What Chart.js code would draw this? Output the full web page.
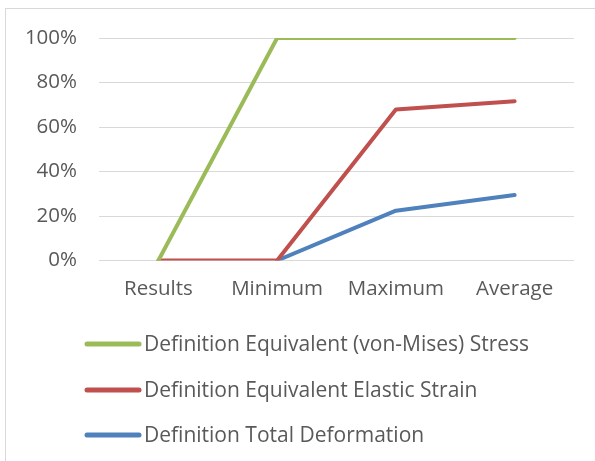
<!DOCTYPE html>
<html>
<head>
<meta charset="utf-8">
<script src="https://cdn.jsdelivr.net/npm/chart.js@4"></script>
<style>
    html, body { margin: 0; padding: 0; background: #fff; overflow: hidden; }
    #frame { position: absolute; left: 5px; top: 8px; width: 620px; height: 480px;
             border-left: 1px solid #d9d9d9; border-top: 1px solid #d9d9d9; }
    #lineChart { position: absolute; left: 0; top: 0; }
</style>
</head>
<body>
<div id="frame"></div>
<canvas id="lineChart" width="595" height="461"></canvas>
<script>
const categories = ['Results', 'Minimum', 'Maximum', 'Average'];
const stressValues = [0, 100, 100, 100];
const strainValues = [0, 0, 67.9, 71.6];
// no deformation value under "Results"
const deformationValues = [null, 0, 22.4, 29.4];
const yTicks = [0, 20, 40, 60, 80, 100];

const textColor = '#595959';
const fontFamily = '"Open Sans", Lato, sans-serif';

// legend is drawn by hand, one entry per row, left aligned
const stackedLegend = {
    id: 'stackedLegend',
    afterDraw(chart) {
        const ctx = chart.ctx;
        const rows = [344, 390, 435];
        ctx.save();
        chart.data.datasets.forEach((ds, i) => {
            const y = rows[i];
            ctx.strokeStyle = ds.borderColor;
            ctx.lineWidth = 5;
            ctx.lineCap = 'round';
            ctx.beginPath();
            ctx.moveTo(87, y);
            ctx.lineTo(139, y);
            ctx.stroke();
            ctx.fillStyle = textColor;
            ctx.font = '21px ' + fontFamily;
            ctx.textBaseline = 'middle';
            ctx.textAlign = 'left';
            ctx.fillText(ds.label, 144, y + 1);
        });
        ctx.restore();
    }
};

const lineStyle = {
    borderWidth: 4,
    borderCapStyle: 'round',
    borderJoinStyle: 'round',
    pointRadius: 0,
    tension: 0,
    fill: false
};

new Chart(document.getElementById('lineChart'), {
    type: 'line',
    data: {
        labels: categories,
        datasets: [
            { label: 'Definition Equivalent (von-Mises) Stress', data: stressValues, borderColor: '#9bbb59', order: 0, ...lineStyle },
            { label: 'Definition Equivalent Elastic Strain', data: strainValues, borderColor: '#c0504d', order: 1, ...lineStyle },
            { label: 'Definition Total Deformation', data: deformationValues, borderColor: '#4f81bd', order: 2, ...lineStyle }
        ]
    },
    options: {
        responsive: false,
        animation: false,
        layout: { padding: { left: 0, right: 21, top: 38, bottom: 0 } },
        plugins: {
            legend: { display: false },
            tooltip: { enabled: false }
        },
        scales: {
            x: {
                offset: true,
                grid: { display: false },
                border: { display: false },
                ticks: { color: textColor, font: { family: fontFamily, size: 20.5 }, padding: 8, maxRotation: 0 },
                afterFit(axis) { axis.height = 200.5; }
            },
            y: {
                min: 0,
                max: 100,
                afterBuildTicks(axis) { axis.ticks = yTicks.map(v => ({ value: v })); },
                grid: { color: '#d9d9d9', lineWidth: 1, drawTicks: false },
                border: { display: false },
                ticks: {
                    color: textColor,
                    font: { family: fontFamily, size: 20.5 },
                    padding: 22,
                    callback: v => v + '%'
                },
                afterFit(axis) { axis.width = 99; }
            }
        }
    },
    plugins: [stackedLegend]
});
</script>
</body>
</html>
